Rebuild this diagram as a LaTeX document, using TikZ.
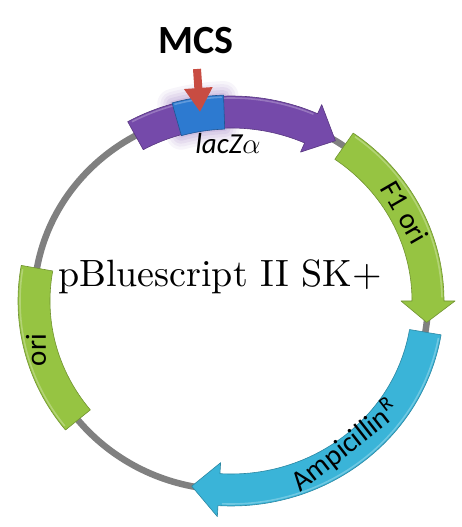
\RequirePackage{fix-cm}
\documentclass[tikz,border=0pt]{standalone}
\usepackage{fontspec}
\newfontfamily\calib{Carlito}
\newfontfamily\lmten{lmroman10-regular.otf}
\usetikzlibrary{arrows.meta}
\definecolor{purpleC}{RGB}{117,74,170}
\definecolor{blueC}{RGB}{45,122,208}
\definecolor{greenC}{RGB}{150,196,66}
\definecolor{cyanC}{RGB}{58,180,216}
\definecolor{redC}{RGB}{200,76,66}
\definecolor{grayC}{RGB}{128,128,128}
\begin{document}
\begin{tikzpicture}[x=1pt,y=1pt,
  ring/.style={draw=grayC,line width=6.5pt},
  band/.style={line width=0.6pt,line join=round},
  hilite/.style={line width=1.6pt,opacity=0.55},
  lbl/.style={font=\calib\fontsize{29}{30}\selectfont,inner sep=0pt},
  redarrow/.style={draw=redC,line width=8pt,-{Triangle[width=27pt,length=24pt]}}]
\useasboundingbox (0,0) rectangle (462,527);
\begin{scope}[shift={(231,226)}]
  % backbone
  \draw[ring] (0,0) ellipse [x radius=197,y radius=189];
  % glow around MCS box
  \foreach \lw/\op in {30/0.07,24/0.08,18/0.10,12/0.12,6/0.15}{
    \draw[draw=purpleC!80,line width=\lw pt,opacity=\op,line join=round]
      (106:213 and 205) arc[start angle=106,end angle=92,x radius=213,y radius=205]
      -- (92:181 and 173) arc[start angle=92,end angle=106,x radius=181,y radius=173] -- cycle;
  }
  % lacZ alpha (purple)
  \path[band,fill=purpleC,draw=purpleC!75!black]
    (119:213 and 205) arc[start angle=119,end angle=66,x radius=213,y radius=205]
    -- (66:223 and 215) -- (58:197 and 189) -- (66:171 and 163) -- (66:181 and 173)
    arc[start angle=66,end angle=119,x radius=181,y radius=173] -- cycle;
  \draw[hilite,draw=purpleC!55!white] (118:211 and 203) arc[start angle=118,end angle=67,x radius=211,y radius=203];
  % MCS box
  \path[band,fill=blueC,draw=blueC!70!black]
    (106:214 and 206) arc[start angle=106,end angle=92,x radius=214,y radius=206]
    -- (92:180 and 172) arc[start angle=92,end angle=106,x radius=180,y radius=172] -- cycle;
  \draw[hilite,draw=blueC!55!white] (105.5:212 and 204) arc[start angle=105.5,end angle=92.5,x radius=212,y radius=204];
  % F1 ori (green)
  \path[band,fill=greenC,draw=greenC!75!black]
    (55:213 and 205) arc[start angle=55,end angle=0,x radius=213,y radius=205]
    -- (0:224 and 216) -- (-6.5:197 and 189) -- (0:170 and 162) -- (0:181 and 173)
    arc[start angle=0,end angle=55,x radius=181,y radius=173] -- cycle;
  \draw[hilite,draw=greenC!50!white] (54:211 and 203) arc[start angle=54,end angle=1,x radius=211,y radius=203];
  % Ampicillin (cyan)
  \path[band,fill=cyanC,draw=cyanC!75!black]
    (-9.5:213 and 205) arc[start angle=-9.5,end angle=-93.5,x radius=213,y radius=205]
    -- (-93.5:224 and 216) -- (-101.5:197 and 189) -- (-93.5:170 and 162) -- (-93.5:181 and 173)
    arc[start angle=-93.5,end angle=-9.5,x radius=181,y radius=173] -- cycle;
  \draw[hilite,draw=cyanC!50!white] (-10.5:211 and 203) arc[start angle=-10.5,end angle=-92.5,x radius=211,y radius=203];
  % ori (green)
  \path[band,fill=greenC,draw=greenC!75!black]
    (170:213 and 205) arc[start angle=170,end angle=219,x radius=213,y radius=205]
    -- (219:181 and 173) arc[start angle=219,end angle=170,x radius=181,y radius=173] -- cycle;
  \draw[hilite,draw=greenC!50!white] (171:211 and 203) arc[start angle=171,end angle=218,x radius=211,y radius=203];
\end{scope}
% labels
\node[lbl] (lacz) at (228,383) {\itshape lacZ$\alpha$};
\node[lbl,rotate=-60] (f1) at (405,315) {F1 ori};
\node[lbl,rotate=38] (amp) at (345,81) {Ampicillin\textsuperscript{R}};
\node[lbl,rotate=90] (ori) at (36,177) {ori};
\node[anchor=base,inner sep=0pt,font=\lmten\fontsize{38}{40}\selectfont] (name) at (220,240) {pBluescript II SK+};
\node[inner sep=0pt,font=\calib\bfseries\fontsize{40}{42}\selectfont] (mcs) at (196,486) {MCS};
\coordinate (redstart) at (197,458);
\coordinate (redtip) at (200,415);
\draw[redarrow] (redstart) -- (redtip);
\end{tikzpicture}
\end{document}
